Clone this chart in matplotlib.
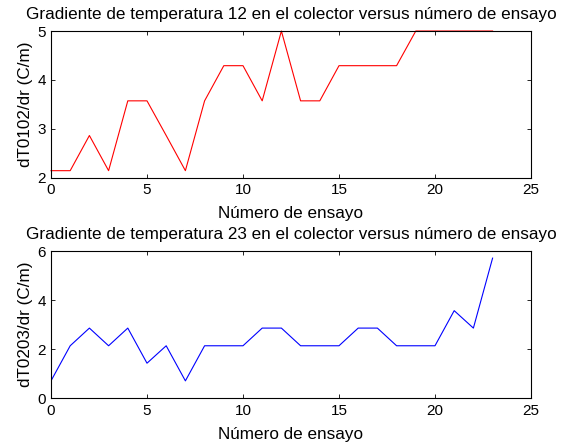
import matplotlib
matplotlib.use('Agg')
import matplotlib.pyplot as plt
import numpy as np

plt.rcParams['font.family'] = ['Liberation Sans', 'DejaVu Sans']

# datos
ensayo = np.arange(0, 24)
dT12 = [2.14, 2.14, 2.86, 2.14, 3.57, 3.57, 2.86, 2.14, 3.57, 4.29, 4.29, 3.57,
        5.0, 3.57, 3.57, 4.29, 4.29, 4.29, 4.29, 5.0, 5.0, 5.0, 5.0, 5.0]
dT23 = [0.71, 2.14, 2.86, 2.14, 2.86, 1.43, 2.14, 0.71, 2.14, 2.14, 2.14, 2.86,
        2.86, 2.14, 2.14, 2.14, 2.86, 2.86, 2.14, 2.14, 2.14, 3.57, 2.86, 5.71]

fig = plt.figure(figsize=(5.61, 4.43), dpi=100)
ax1 = fig.add_axes([0.0909, 0.5993, 0.8556, 0.3307])
ax2 = fig.add_axes([0.0909, 0.1009, 0.8556, 0.3325])

def estilo(ax, ylim, yticks, ylabel, title):
    ax.set_xlim(0, 25)
    ax.set_ylim(*ylim)
    ax.set_xticks([0, 5, 10, 15, 20, 25])
    ax.set_yticks(yticks)
    ax.tick_params(direction='in', top=True, right=True, labelsize=11, length=3, width=0.6)
    ax.tick_params(axis='x', pad=4)
    ax.tick_params(axis='y', pad=3.5)
    for s in ax.spines.values():
        s.set_linewidth(0.8)
    ax.set_xlabel('Número de ensayo', fontsize=12.3, labelpad=6.5)
    ax.set_ylabel(ylabel, fontsize=12.3, labelpad=3)
    ax.set_title(title, fontsize=12.3, pad=9)

ax1.plot(ensayo, dT12, color='red', linewidth=0.8, clip_on=False)
estilo(ax1, (2, 5), [2, 3, 4, 5], 'dT0102/dr (C/m)',
       'Gradiente de temperatura 12 en el colector versus número de ensayo')

ax2.plot(ensayo, dT23, color='blue', linewidth=0.8)
estilo(ax2, (0, 6), [0, 2, 4, 6], 'dT0203/dr (C/m)',
       'Gradiente de temperatura 23 en el colector versus número de ensayo')

fig.savefig('out.png', dpi=100)
